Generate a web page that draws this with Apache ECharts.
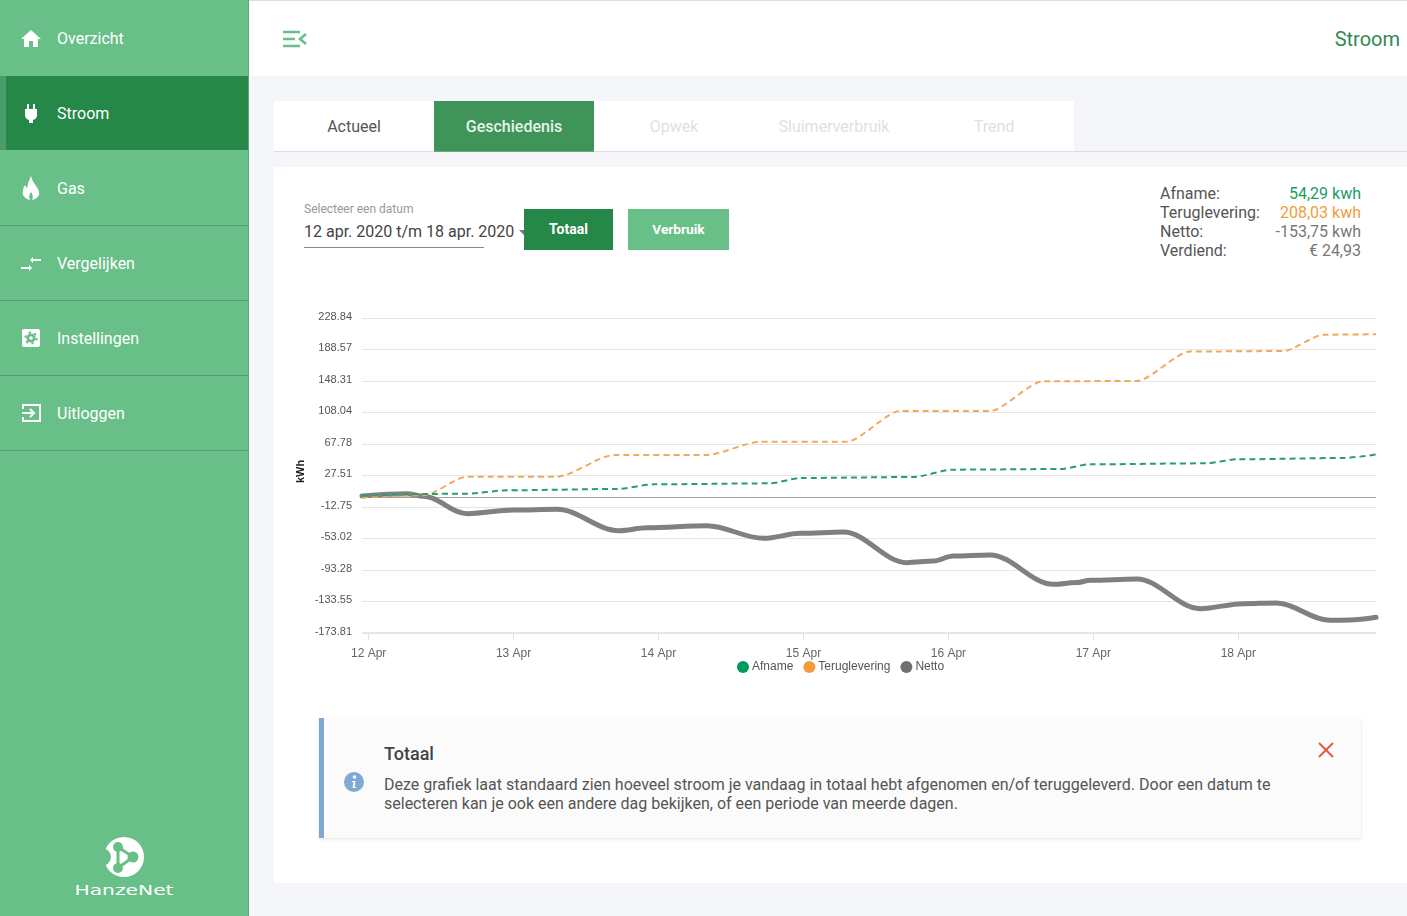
<!DOCTYPE html>
<html>
<head>
<meta charset="utf-8">
<title>Stroom</title>
<script src="https://cdn.jsdelivr.net/npm/echarts@6/dist/echarts.min.js"></script>
<style>
html, body { margin: 0; padding: 0; width: 1407px; height: 916px; overflow: hidden; background: #f5f6fa; font-family: Roboto, Arial, sans-serif; }
div, span, svg { position: absolute; white-space: nowrap; }
.menu { left: 0; width: 248px; height: 75px; box-sizing: border-box; border-bottom: 1px solid #549f70; color: #fff; font-size: 16px; }
.menu span { left: 57px; top: 28px; line-height: 20px; }
.menu svg { left: 20px; top: 26px; }
.tab { top: 101px; width: 160px; height: 50px; line-height: 51px; text-align: center; font-size: 16px; color: #dfe1e3; background: #fff; }
.btn { top: 209px; height: 41px; line-height: 40px; text-align: center; color: #fff; font-size: 14px; font-weight: 700; }
.lbl { left: 1160px; font-size: 16px; line-height: 19px; color: #555; }
.val { right: 46px; font-size: 16px; line-height: 19px; }
</style>
</head>
<body>
<div style="left:0;top:0;width:1407px;height:76px;background:#fff;border-top:1px solid #ddd;box-sizing:border-box"></div>
<div style="left:0;top:0;width:249px;height:916px;background:#69bf88;border-right:1px solid #5aa878;box-sizing:border-box"></div>
<div style="left:0;top:76px;width:248px;height:74px;background:#258748"></div>
<div style="left:0;top:76px;width:6px;height:74px;background:#4a9c68"></div>

<div class="menu" style="top:1px;border:0"><svg width="22" height="22" viewBox="0 0 22 22"><path d="M11 3 L21 12 H18 V20 H13 V14 H9 V20 H4 V12 H1 Z" fill="#fff"/></svg><span>Overzicht</span></div>
<div class="menu" style="top:76px;border:0"><svg width="22" height="22" viewBox="0 0 22 22"><path d="M7 2 H9 V7 H13 V2 H15 V7 H17 V13 Q17 17 13 18 V21 H9 V18 Q5 17 5 13 V7 H7 Z" fill="#fff"/></svg><span>Stroom</span></div>
<div class="menu" style="top:151px"><svg width="22" height="26" style="top:24px" viewBox="0 0 22 26"><path d="M11 1 Q12 6 16 11 Q20 16 19 20 Q17 24 12 25 Q14 21 11 17 Q8 21 10 25 Q5 24 3 20 Q2 15 5 10 Q6 12 7 13 Q8 7 11 1 Z" fill="#fff"/></svg><span>Gas</span></div>
<div class="menu" style="top:226px"><svg width="22" height="22" viewBox="0 0 22 22"><path d="M1 15 H9 V13 L12 16 L9 19 V17 H1 Z M21 9 H13 V11 L10 8 L13 5 V7 H21 Z" fill="#fff"/></svg><span>Vergelijken</span></div>
<div class="menu" style="top:301px"><svg width="22" height="22" viewBox="0 0 22 22"><rect x="2" y="2" width="18" height="18" rx="2" fill="#fff"/><circle cx="11" cy="11" r="4.6" fill="#69bf88"/><circle cx="11" cy="11" r="5.6" fill="none" stroke="#69bf88" stroke-width="2" stroke-dasharray="2.4 3.4"/><circle cx="11" cy="11" r="1.8" fill="#fff"/></svg><span>Instellingen</span></div>
<div class="menu" style="top:376px"><svg width="22" height="22" viewBox="0 0 22 22"><path d="M3 7 V3 H20 V19 H3 V15" fill="none" stroke="#fff" stroke-width="2"/><path d="M2 11 H14 M10 7 L14 11 L10 15" fill="none" stroke="#fff" stroke-width="2"/></svg><span>Uitloggen</span></div>

<svg style="left:100px;top:834px" width="48" height="46" viewBox="0 0 48 46"><circle cx="24" cy="23" r="20" fill="#fff"/><circle cx="2" cy="23" r="9" fill="#69bf88"/><path d="M18 13 L33 23 L18 34 Z" fill="#fff" stroke="#69bf88" stroke-width="3"/><path d="M21 18 L29 23 L21 29 Z" fill="#fff"/><circle cx="18" cy="13" r="5" fill="#69bf88"/><circle cx="18" cy="34" r="5" fill="#69bf88"/><circle cx="33" cy="23" r="5.5" fill="#69bf88"/></svg>
<div style="left:74px;top:881px;width:100px;text-align:center;color:#fff;font:400 13.5px 'DejaVu Sans';line-height:18px;transform:scaleX(1.5)">HanzeNet</div>

<svg style="left:283px;top:30px" width="24" height="18" viewBox="0 0 24 18"><path d="M0 2 H17 M0 9 H12 M0 16 H17 M23 4 L17 9 L23 14" fill="none" stroke="#69bf88" stroke-width="2.6"/></svg>
<div style="right:7px;top:27px;font-size:20px;line-height:24px;color:#2f8a54">Stroom</div>

<div style="left:274px;top:101px;width:800px;height:50px;background:#fff"></div>
<div style="left:274px;top:151px;width:1133px;height:1px;background:#ddd"></div>
<div class="tab" style="left:274px;color:#555">Actueel</div>
<div class="tab" style="left:434px;background:#3e9459;color:#e6f5e8;font-weight:500;border-bottom:1px solid #69a87e;box-sizing:content-box">Geschiedenis</div>
<div class="tab" style="left:594px">Opwek</div>
<div class="tab" style="left:754px">Sluimerverbruik</div>
<div class="tab" style="left:914px">Trend</div>

<div style="left:274px;top:167px;width:1133px;height:716px;background:#fff"></div>

<div style="left:304px;top:202px;font-size:12px;line-height:14px;color:#999">Selecteer een datum</div>
<div style="left:304px;top:222px;font-size:16px;line-height:20px;color:#444">12 apr. 2020 t/m 18 apr. 2020</div>
<div style="left:304px;top:247px;width:180px;height:1px;background:#888"></div>
<div style="left:519px;top:230px;width:0;height:0;border-left:5px solid transparent;border-right:5px solid transparent;border-top:5px solid #777"></div>
<div class="btn" style="left:524px;width:89px;background:#258748">Totaal</div>
<div class="btn" style="left:628px;width:101px;background:#69bf88;font-size:13.7px">Verbruik</div>

<div class="lbl" style="top:184px">Afname:</div><div class="val" style="top:184px;color:#1a9c5f">54,29 kwh</div>
<div class="lbl" style="top:203px">Teruglevering:</div><div class="val" style="top:203px;color:#f39c3d">208,03 kwh</div>
<div class="lbl" style="top:222px">Netto:</div><div class="val" style="top:222px;color:#777">-153,75 kwh</div>
<div class="lbl" style="top:241px">Verdiend:</div><div class="val" style="top:241px;color:#777">€ 24,93</div>

<div id="line_chart" style="left:274px;top:290px;width:1133px;height:390px"></div>

<div style="left:319px;top:718px;width:1042px;height:120px;background:#fbfbfb;border-left:5px solid #7fa9d3;box-sizing:border-box;box-shadow:0 1px 3px rgba(0,0,0,0.12)"></div>
<svg style="left:344px;top:772px" width="20" height="20" viewBox="0 0 20 20"><circle cx="10" cy="10" r="10" fill="#7fa9d3"/><circle cx="10.5" cy="5" r="1.8" fill="#fff"/><path d="M8 9 H11.5 L10.5 15 H12 V16 H8.5 L9.5 10 H8 Z" fill="#fff"/></svg>
<div style="left:384px;top:742px;font-size:18px;font-weight:500;line-height:24px;color:#444">Totaal</div>
<div style="left:384px;top:775px;font-size:16px;line-height:19px;color:#555">Deze grafiek laat standaard zien hoeveel stroom je vandaag in totaal hebt afgenomen en/of teruggeleverd. Door een datum te<br>selecteren kan je ook een andere dag bekijken, of een periode van meerde dagen.</div>
<svg style="left:1318px;top:742px" width="16" height="16" viewBox="0 0 16 16"><path d="M1 1 L15 15 M15 1 L1 15" stroke="#e05a47" stroke-width="2"/></svg>

<script>
// uren vanaf 12 apr 00:00
var dayTicks = [0, 24, 48, 72, 96, 120, 144];
var dayLabels = ['12 Apr', '13 Apr', '14 Apr', '15 Apr', '16 Apr', '17 Apr', '18 Apr'];
var yTicks = [228.84, 188.57, 148.31, 108.04, 67.78, 27.51, -12.75, -53.02, -93.28, -133.55, -173.81];

var afnameHours = [-1.1, 9.1, 16.3, 22.9, 41.1, 47.2, 66.5, 71.4, 90.2, 96.7, 114.5, 119.4, 138.7, 143.8, 161.3, 166.8];
var afnameValues = [1.3, 3.9, 4.3, 8.6, 10.3, 16.2, 17.5, 24.3, 25.6, 35, 35.8, 41.8, 43.1, 48.2, 49.9, 54.29];

var terugHours = [-1.1, 9.1, 16.3, 31.2, 40.6, 56, 64.8, 79.2, 88, 102.9, 111.7, 127.2, 136, 151.5, 158.1, 166.8];
var terugValues = [-0.4, 2.2, 26, 26, 53.6, 53.8, 70.6, 70.8, 110, 110, 148, 148.3, 186, 186.6, 207.5, 208.03];

var nettoHours = [-1.1, 6.3, 9.1, 16.3, 24, 31.2, 41.4, 46.1, 56, 65.4, 71.5, 78.6, 89.1, 93.5, 96.8, 102.9, 113.4, 117.2, 119.5, 127.2, 137.7, 144.8, 150.3, 159.2, 162.5, 166.8];
var nettoValues = [1.3, 4.3, 0.9, -21.3, -16.6, -15.7, -43, -39.2, -36.6, -52.8, -46.4, -44.7, -83.9, -81.8, -75.4, -74.1, -111.6, -109.4, -106.5, -104.8, -142.7, -136.3, -135.5, -157.6, -157.2, -153.75];

function pairs(xs, ys) {
	return xs.map(function (x, i) { return [x, ys[i]]; });
}

var line_chart = echarts.init(document.getElementById('line_chart'));

// min staat niet op een veelvoud van de stap, dus de gridlijnen als markLine
var gridLines = yTicks.map(function (v) {
	return { yAxis: v, lineStyle: { color: '#e6e6e6', width: v === -173.81 ? 2 : 1, type: 'solid' } };
});
gridLines.push({ yAxis: 0, lineStyle: { color: '#a3a3a3', width: 1, type: 'solid' } });

line_chart.setOption({
	animation: false,
	textStyle: { fontFamily: 'Arial, Liberation Sans, sans-serif' },
	grid: { left: 88, right: 31, top: 28, bottom: 47 },
	legend: {
		left: 463,
		top: 371,
		icon: 'circle',
		itemWidth: 12,
		itemHeight: 12,
		itemGap: 10,
		padding: 0,
		textStyle: { fontSize: 12, color: '#555', padding: [0, 0, 0, -2] },
		data: ['Afname', 'Teruglevering', 'Netto']
	},
	xAxis: {
		type: 'value',
		min: -1.1,
		max: 166.8,
		splitLine: { show: false },
		axisLine: { onZero: false, show: false },
		axisTick: { show: true, length: 7, customValues: dayTicks, lineStyle: { color: '#e0e0e0' } },
		axisLabel: {
			margin: 15,
			fontSize: 12,
			color: '#666',
			customValues: dayTicks,
			formatter: function (v) { return dayLabels[dayTicks.indexOf(v)]; }
		}
	},
	yAxis: {
		type: 'value',
		name: 'kWh',
		nameLocation: 'middle',
		nameGap: 56,
		nameMoveOverlap: false,
		nameTextStyle: { fontSize: 11, fontWeight: 'bold', fontFamily: 'Liberation Sans', color: '#222', padding: [0, 0, 0, 8] },
		min: -173.81,
		max: 228.84,
		splitLine: { show: false },
		axisLine: { show: false },
		axisTick: { show: false },
		axisLabel: {
			margin: 10,
			fontSize: 11,
			color: '#555',
			verticalAlign: 'bottom',
			lineHeight: 3,
			customValues: yTicks,
			formatter: function (v) { return v.toFixed(2); }
		}
	},
	series: [{
		name: 'Netto',
		type: 'line',
		data: pairs(nettoHours, nettoValues),
		showSymbol: false,
		smooth: 0.35,
		smoothMonotone: 'x',
		z: 3,
		itemStyle: { color: '#707070' },
		lineStyle: { color: '#808080', width: 5, cap: 'round' },
		markLine: { silent: true, symbol: 'none', label: { show: false }, z: 1, data: gridLines }
	}, {
		name: 'Teruglevering',
		type: 'line',
		data: pairs(terugHours, terugValues),
		showSymbol: false,
		smooth: 0.25,
		smoothMonotone: 'x',
		z: 4,
		itemStyle: { color: '#f79a3a' },
		lineStyle: { color: '#f0a95e', width: 2, type: [6, 4] }
	}, {
		name: 'Afname',
		type: 'line',
		data: pairs(afnameHours, afnameValues),
		showSymbol: false,
		smooth: 0.25,
		smoothMonotone: 'x',
		z: 5,
		itemStyle: { color: '#009a5e' },
		lineStyle: { color: '#2a9d70', width: 2, type: [6, 4] }
	}]
});
</script>
</body>
</html>
